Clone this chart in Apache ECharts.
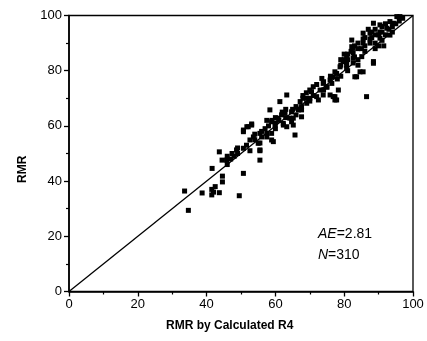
<!DOCTYPE html>
<html><head><meta charset="utf-8">
<script src="https://cdn.jsdelivr.net/npm/echarts@6/dist/echarts.min.js"></script>
<style>html,body{margin:0;padding:0;background:#fff}#c{width:427px;height:341px}</style>
</head><body><div id="c"></div>
<script>
const xTitle = 'RMR by Calculated R4';
const yTitle = 'RMR';
const xTicks = [0, 20, 40, 60, 80, 100];
const yTicks = [0, 20, 40, 60, 80, 100];
const lineX = [0, 100];
const lineY = [0, 100];
const annotAE = '2.81';
const annotN = '310';
const xs = [33.6,34.7,38.7,41.6,41.5,41.5,42,42.5,43.7,44.6,44.6,43.7,44.5,45.8,47.4,49,48.7,50.7,49.5,55.5,55.5,52.6,50.7,52.1,53.1,50.7,51.6,52.6,53.6,55.5,55.5,55.5,57.5,57.5,51.7,50.7,53.1,55,58.4,58.9,58.9,59.4,57.5,61.3,60.8,61.8,62.8,62.3,63.3,64.7,65.2,65.7,66.7,67.2,67.6,64.7,72.5,63.3,65.2,67.6,69.1,70.5,71,73.5,73.9,74.9,75.9,77.8,78.3,77.3,78.8,80.7,76.4,72,67.6,64.2,62.3,59.9,58.9,96.2,93.3,93.3,90.4,90.4,90.4,87.5,87.5,87.5,88.5,85.5,85.5,85.5,85.1,84.6,82.6,82.6,82.6,82.6,82.2,82.2,83.1,80.7,80.7,80.7,79.7,77.8,76.8,75.9,73.9,73,77.3,86.5,88.5,92.4,95.3,94.3,88.5,85.5,83.6,76.8,77.3,46,47,56,57,60,62,63,68,69,70,72,74,79,80,81,83,84,86,88,89,91,92,91.5,94,89,86,84,79,75,70,68,66,63,60,58,54,79,80,81,82,83,84,85,86,87,88,89,90,91,92,93,94,95,96,97,89,90,91,84,81,78,76,74,71,70,69,66,65,61,60,59,56,54,49,48,46];
const ys = [36.4,29.4,35.7,44.6,37,35,36,38,35.8,41.8,39.7,50.6,47.6,47.6,50,50,51.3,42.8,34.7,47.6,51,51,57.9,59.7,60.7,51.9,53,54.9,56,57.3,53.8,51.3,62,56,59.7,58.5,60.3,53.7,65.8,61.5,57.3,54.3,57.3,68.8,62.8,64,64.6,60.3,59.7,65.1,62.8,56.7,65.8,68.8,67,61.5,69.4,71.2,60.3,65.8,68.2,72.4,74.2,77.2,71.2,74.2,71.2,69.4,73,79.6,81.4,82,75.4,70.6,63.3,62.8,60.9,60.3,54.9,99.6,97.8,92.9,96.6,94,91.8,93.6,91.5,90,83.3,93.6,91.5,90,85.1,79.6,88.1,86.4,84.5,82.8,91.1,88.7,77.8,85.1,83,80.9,83.3,79,77.8,76.6,75.4,73,70.6,70.6,97.2,95.4,99.6,97.2,82.7,79.6,77.8,70.6,69.4,49,48,58,59,63,65,66,71,72,73,75,76,82,84,86,89,90,92,94,95,96,97,89,94,88,87,84,78,74,70,70,67,63,59,60,55,84,86,84,87,85,88,88,89,95,92,93,93,94,93,95,96,97,98,99,90,89,91,82,80,77,78,73,71,69,70,64,66,62,61,62,56,57,52,49,46];

const pts = xs.map((x, i) => [x, ys[i]]);
const linePts = lineX.map((x, i) => [x, lineY[i]]);
const font = 'Arial, "Liberation Sans", sans-serif';
const chart = echarts.init(document.getElementById('c'));
chart.setOption({
  animation: false,
  backgroundColor: '#fff',
  grid: { left: 69, right: 14, top: 15.5, bottom: 49.5, show: true, borderColor: '#000', borderWidth: 1.3, backgroundColor: 'transparent' },
  xAxis: {
    type: 'value', min: xTicks[0], max: xTicks[xTicks.length - 1], interval: 20,
    axisLine: { show: true, onZero: false, lineStyle: { color: '#000', width: 1.6 } },
    axisTick: { show: true, inside: false, length: 5, lineStyle: { color: '#000', width: 1.3 } },
    minorTick: { show: true, splitNumber: 2, length: 3, lineStyle: { color: '#000', width: 1.2 } },
    splitLine: { show: false },
    axisLabel: { color: '#000', fontFamily: font, fontSize: 13, margin: 6 }
  },
  yAxis: {
    type: 'value', min: yTicks[0], max: yTicks[yTicks.length - 1], interval: 20,
    axisLine: { show: true, onZero: false, lineStyle: { color: '#000', width: 1.6 } },
    axisTick: { show: true, inside: false, length: 5, lineStyle: { color: '#000', width: 1.3 } },
    minorTick: { show: true, splitNumber: 2, length: 3, lineStyle: { color: '#000', width: 1.2 } },
    splitLine: { show: false },
    axisLabel: { color: '#000', fontFamily: font, fontSize: 13, margin: 7 }
  },
  series: [
    { type: 'line', data: linePts, symbol: 'none', lineStyle: { color: '#000', width: 1.3 }, z: 3 },
    { type: 'scatter', data: pts, symbol: 'rect', symbolSize: 5, itemStyle: { color: '#000', opacity: 1 }, z: 4 }
  ],
  graphic: [
    { type: 'text', left: 166, top: 320, style: { text: xTitle, font: 'bold 12px ' + font, fill: '#000' } },
    { type: 'text', x: 17, y: 183, rotation: Math.PI / 2, style: { text: yTitle, font: 'bold 12px ' + font, fill: '#000' } },
    { type: 'text', left: 318, top: 224, style: {
        text: '{i|AE}=' + annotAE + '\n{i|N}=' + annotN,
        font: '14px ' + font, fill: '#000', lineHeight: 21,
        rich: { i: { fontStyle: 'italic', fontFamily: font, fontSize: 14, fill: '#000' } }
    } }
  ]
});
</script></body></html>
